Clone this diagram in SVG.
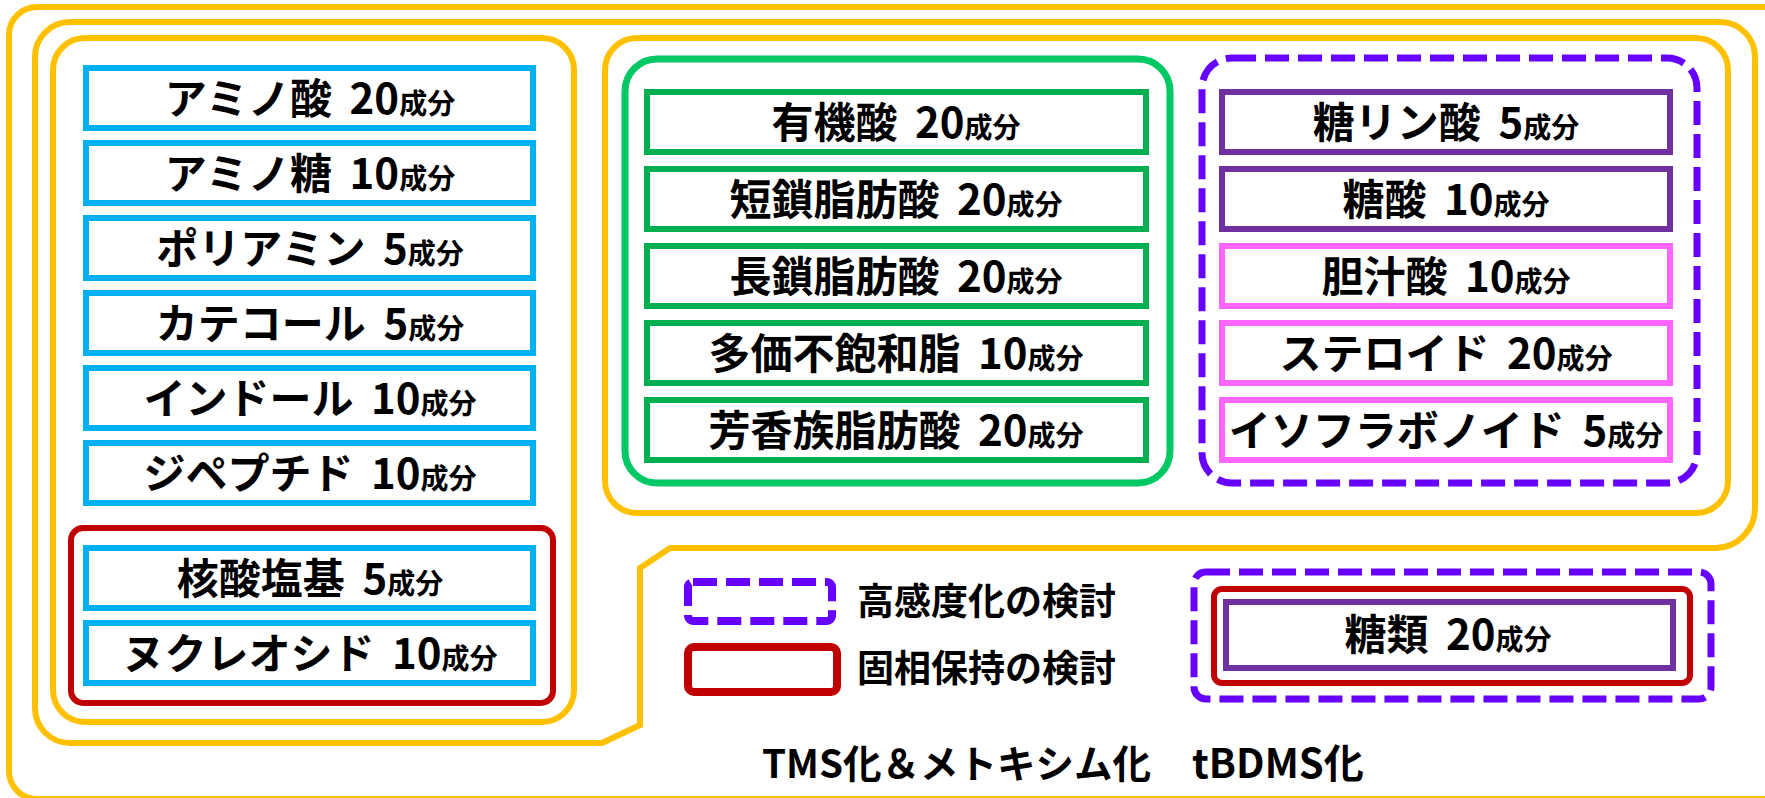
<svg xmlns="http://www.w3.org/2000/svg" width="1765" height="798" viewBox="0 0 1765 798">
<style>
text{font-family:"Noto Sans CJK JP","Noto Sans",sans-serif;font-weight:700;fill:#000}
.t{font-size:42px;text-anchor:middle}
.s{font-size:28px}
.lg{font-size:37px}
.bt{font-size:38.5px}
.y{fill:none;stroke:#FFC000;stroke-width:6}
.b{fill:#fff;stroke:#00B0F0;stroke-width:6}
.g{fill:#fff;stroke:#00B050;stroke-width:6}
.p{fill:#fff;stroke:#7030A0;stroke-width:6}
.k{fill:#fff;stroke:#FF66FF;stroke-width:6}
.r{fill:none;stroke:#C00000;stroke-width:6}
.d{fill:none;stroke:#6600FF;stroke-width:7;stroke-dasharray:24 9}
</style>
<rect width="1765" height="798" fill="#fff"/>
<g id="frames">
<rect class="y" x="9" y="7" width="1810" height="792" rx="28"/>
<path class="y" d="M70,22 H1720 A35,35 0 0 1 1755,57 V508 A40,40 0 0 1 1715,548 H670 L640,568 V725 L602,743 H70 A35,35 0 0 1 35,708 V57 A35,35 0 0 1 70,22 Z"/>
<rect class="y" x="53" y="38" width="521" height="684" rx="32"/>
<rect class="y" x="605" y="38" width="1123" height="475" rx="32"/>
<rect x="625" y="59" width="545" height="424" rx="32" fill="none" stroke="#00C864" stroke-width="7"/>
<rect class="d" x="1202" y="58" width="495" height="425" rx="30"/>
<rect class="r" x="71" y="528" width="482" height="175" rx="12"/>
</g>
<g id="left">
<g id="n1"><rect class="b" x="86" y="68" width="447" height="60"/><text class="t" x="310" y="114">アミノ酸 <tspan dx="8">20</tspan><tspan class="s">成分</tspan></text></g>
<g id="n2"><rect class="b" x="86" y="143" width="447" height="60"/><text class="t" x="310" y="189">アミノ糖 <tspan dx="8">10</tspan><tspan class="s">成分</tspan></text></g>
<g id="n3"><rect class="b" x="86" y="218" width="447" height="60"/><text class="t" x="310" y="264">ポリアミン <tspan dx="8">5</tspan><tspan class="s">成分</tspan></text></g>
<g id="n4"><rect class="b" x="86" y="293" width="447" height="60"/><text class="t" x="310" y="339">カテコール <tspan dx="8">5</tspan><tspan class="s">成分</tspan></text></g>
<g id="n5"><rect class="b" x="86" y="368" width="447" height="60"/><text class="t" x="310" y="414">インドール <tspan dx="8">10</tspan><tspan class="s">成分</tspan></text></g>
<g id="n6"><rect class="b" x="86" y="443" width="447" height="60"/><text class="t" x="310" y="489">ジペプチド <tspan dx="8">10</tspan><tspan class="s">成分</tspan></text></g>
<g id="n7"><rect class="b" x="86" y="548" width="447" height="60"/><text class="t" x="310" y="594">核酸塩基 <tspan dx="8">5</tspan><tspan class="s">成分</tspan></text></g>
<g id="n8"><rect class="b" x="86" y="623" width="447" height="60"/><text class="t" x="310" y="669">ヌクレオシド <tspan dx="8">10</tspan><tspan class="s">成分</tspan></text></g>
</g>
<g id="green">
<g id="g1"><rect class="g" x="647" y="92" width="499" height="60"/><text class="t" x="896" y="138">有機酸 <tspan dx="8">20</tspan><tspan class="s">成分</tspan></text></g>
<g id="g2"><rect class="g" x="647" y="169" width="499" height="60"/><text class="t" x="896" y="215">短鎖脂肪酸 <tspan dx="8">20</tspan><tspan class="s">成分</tspan></text></g>
<g id="g3"><rect class="g" x="647" y="246" width="499" height="60"/><text class="t" x="896" y="292">長鎖脂肪酸 <tspan dx="8">20</tspan><tspan class="s">成分</tspan></text></g>
<g id="g4"><rect class="g" x="647" y="323" width="499" height="60"/><text class="t" x="896" y="369">多価不飽和脂 <tspan dx="8">10</tspan><tspan class="s">成分</tspan></text></g>
<g id="g5"><rect class="g" x="647" y="400" width="499" height="60"/><text class="t" x="896" y="446">芳香族脂肪酸 <tspan dx="8">20</tspan><tspan class="s">成分</tspan></text></g>
</g>
<g id="purple">
<g id="p1"><rect class="p" x="1222" y="92" width="448" height="60"/><text class="t" x="1446" y="138">糖リン酸 <tspan dx="8">5</tspan><tspan class="s">成分</tspan></text></g>
<g id="p2"><rect class="p" x="1222" y="169" width="448" height="60"/><text class="t" x="1446" y="215">糖酸 <tspan dx="8">10</tspan><tspan class="s">成分</tspan></text></g>
<g id="p3"><rect class="k" x="1222" y="246" width="448" height="60"/><text class="t" x="1446" y="292">胆汁酸 <tspan dx="8">10</tspan><tspan class="s">成分</tspan></text></g>
<g id="p4"><rect class="k" x="1222" y="323" width="448" height="60"/><text class="t" x="1446" y="369">ステロイド <tspan dx="8">20</tspan><tspan class="s">成分</tspan></text></g>
<g id="p5"><rect class="k" x="1222" y="400" width="448" height="60"/><text class="t" x="1446" y="446">イソフラボノイド <tspan dx="8">5</tspan><tspan class="s">成分</tspan></text></g>
</g>
<g id="sugar">
<rect class="d" x="1194" y="572" width="517" height="127" rx="12"/>
<rect class="r" x="1214" y="589" width="476" height="94" rx="8"/>
<rect class="p" x="1226" y="602" width="447" height="66"/>
<text class="t" x="1448" y="650">糖類 <tspan dx="8">20</tspan><tspan class="s">成分</tspan></text>
</g>
<g id="legend">
<rect class="d" x="688" y="582" width="144" height="39" rx="5" style="stroke-width:8"/>
<rect class="r" x="688" y="647" width="149" height="45" rx="6" style="stroke-width:8"/>
<text class="lg" x="857" y="615">高感度化の検討</text>
<text class="lg" x="857" y="682">固相保持の検討</text>
</g>
<g id="labels">
<text class="bt" x="762" y="778">TMS化＆メトキシム化</text>
<text class="bt" x="1192" y="778" style="font-size:40px">tBDMS化</text>
</g>
<g id="connectors"></g>
</svg>
